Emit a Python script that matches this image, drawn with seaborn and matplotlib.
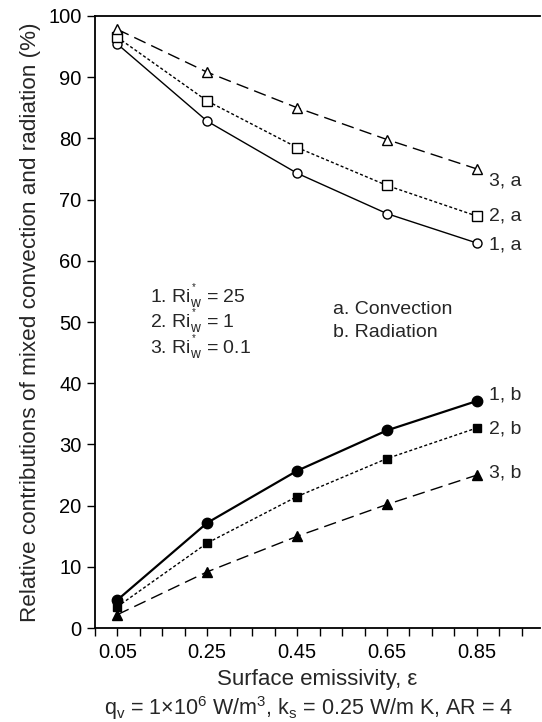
import pandas as pd
import numpy as np
import seaborn as sns
import matplotlib.pyplot as plt

emissivity = [0.05, 0.25, 0.45, 0.65, 0.85]

# convection share (a) and radiation share (b) for the three Ri*w cases
conv_1 = [95.4, 82.8, 74.3, 67.7, 62.9]
conv_2 = [96.5, 86.1, 78.5, 72.3, 67.3]
conv_3 = [97.8, 90.8, 85.0, 79.8, 75.0]
rad_1 = [4.6, 17.2, 25.7, 32.3, 37.1]
rad_2 = [3.5, 13.9, 21.5, 27.7, 32.7]
rad_3 = [2.2, 9.2, 15.0, 20.2, 25.0]

curve_labels = ["1, a", "2, a", "3, a", "1, b", "2, b", "3, b"]
label_y = [62.6, 67.3, 73.1, 38.0, 32.5, 25.3]
ri_values = ["25", "1", "0.1"]

sns.set_style("ticks")
plt.rcParams['font.family'] = ['Liberation Sans', 'DejaVu Sans']
plt.rcParams['mathtext.fontset'] = 'custom'
plt.rcParams['mathtext.rm'] = 'Liberation Sans'
plt.rcParams['mathtext.it'] = 'Liberation Sans:italic'

fig = plt.figure(figsize=(5.42, 7.22), dpi=100)
ax = fig.add_axes([0.175, 0.130, 0.821, 0.848])

series = [
    (conv_1, '-', 'o', 'white', 1.0, 6.5),
    (conv_2, (0, (2.2, 1.6)), 's', 'white', 1.0, 6.5),
    (conv_3, (0, (9, 4.5)), '^', 'white', 1.0, 7),
    (rad_1, '-', 'o', 'black', 1.6, 7.5),
    (rad_2, (0, (2.2, 1.6)), 's', 'black', 1.0, 5.5),
    (rad_3, (0, (9, 4.5)), '^', 'black', 1.0, 7),
]
for vals, ls, mk, fc, lw, ms in series:
    sns.lineplot(x=emissivity, y=vals, ax=ax, color='black', linestyle=ls,
                 linewidth=lw, marker=mk, markersize=ms, markerfacecolor=fc,
                 markeredgecolor='black', markeredgewidth=1.0)

for lab, yy in zip(curve_labels, label_y):
    ax.text(0.877, yy, lab, fontsize=14, ha='left', va='center')

ri_text = "\n".join(r"%d. Ri$_\mathrm{w}^{^*}$ = %s" % (i + 1, v)
                    for i, v in enumerate(ri_values))
ax.text(0.123, 50.0, ri_text, fontsize=14, va='center', linespacing=0.78)
ax.text(0.53, 50.2, "a. Convection\nb. Radiation", fontsize=14, va='center',
        linespacing=1.45)

ax.set_xlim(0, 0.99)
ax.set_ylim(0, 100)
ax.set_xticks(np.arange(0, 0.96, 0.05), minor=True)
ax.set_xticks(emissivity)
ax.set_xticklabels(["0.05", "0.25", "0.45", "0.65", "0.85"])
ax.set_yticks(range(0, 101, 10))
ax.tick_params(axis='both', which='both', direction='out', length=6, width=1,
               labelsize=14.5, colors='black')
ax.tick_params(axis='x', which='major', pad=5)
for s in ['left', 'bottom', 'top']:
    ax.spines[s].set_linewidth(1.3)
    ax.spines[s].set_color('black')
ax.spines['right'].set_visible(False)

ax.set_xlabel("Surface emissivity, ε", fontsize=16, labelpad=5)
ax.set_ylabel("Relative contributions of mixed convection and radiation (%)",
              fontsize=16.2, labelpad=5)
fig.text(0.57, 0.020, r"q$_\mathrm{v}$ = 1×10$^6$ W/m$^3$, k$_\mathrm{s}$ = 0.25 W/m K, AR = 4",
         fontsize=15.5, ha='center', va='center')

fig.savefig("out.png", dpi=100)
